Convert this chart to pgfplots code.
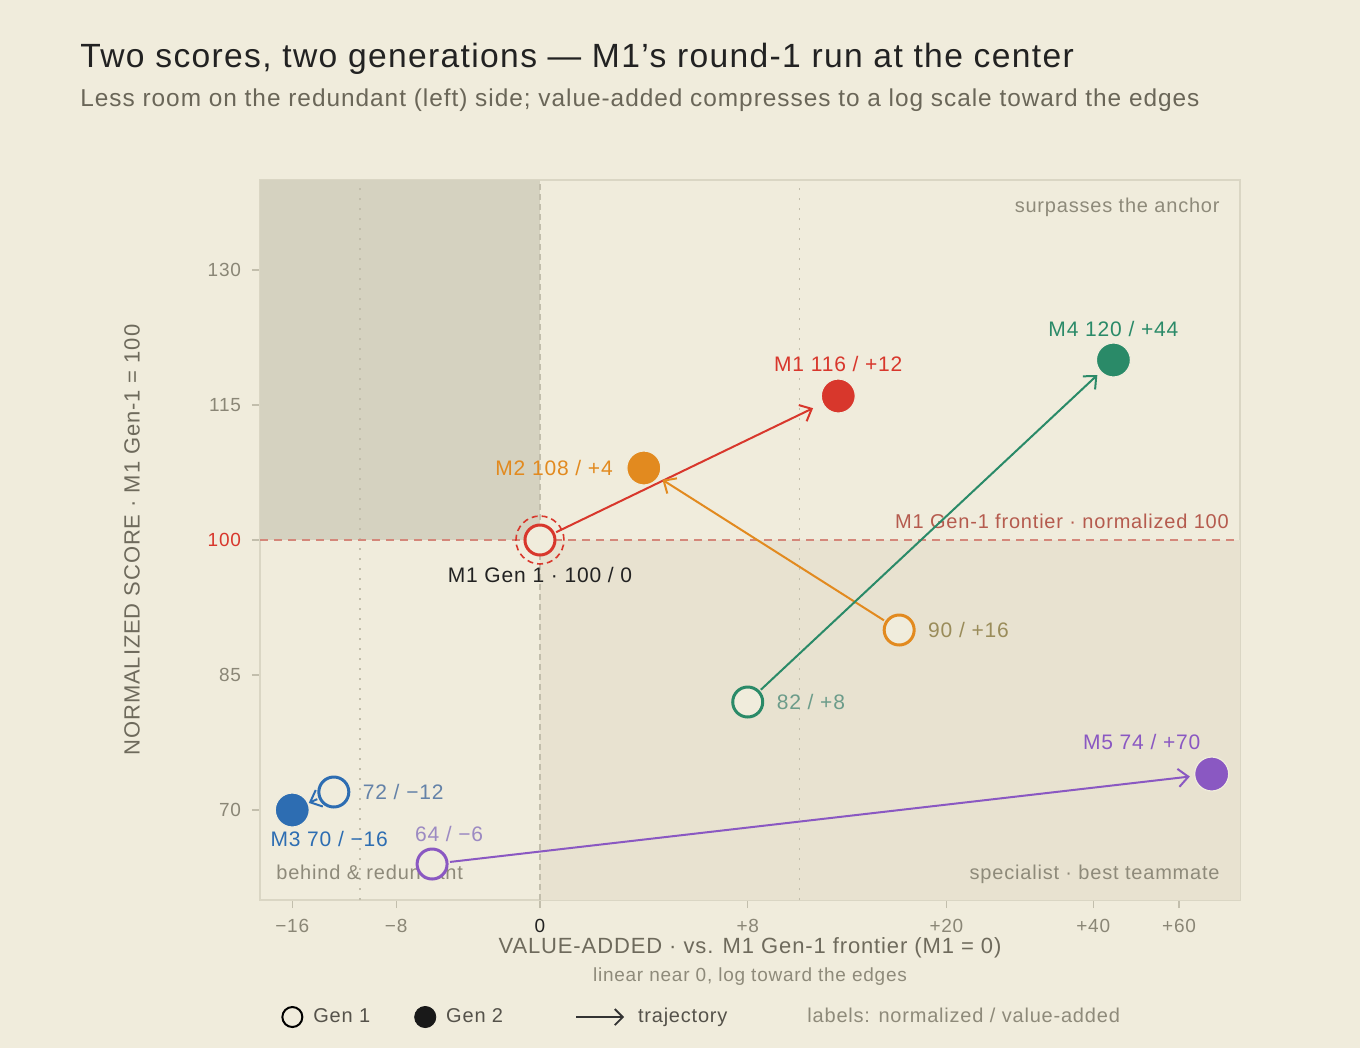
\documentclass[border=0pt]{standalone}
\usepackage{pgfplots}
\pgfplotsset{compat=1.18}
\usepackage{fontspec}
\setmainfont{Liberation Sans}[LetterSpace=4]
\usetikzlibrary{arrows.meta}
\definecolor{bg}{HTML}{F0ECDC}
\definecolor{shadeA}{HTML}{D5D2C0}
\definecolor{shadeB}{HTML}{E8E2D0}
\definecolor{cM1}{HTML}{D8372C}
\definecolor{cM2}{HTML}{E28A1F}
\definecolor{cM3}{HTML}{2D6DB2}
\definecolor{cM4}{HTML}{2A8A68}
\definecolor{cM5}{HTML}{8A58C2}
\definecolor{lM2}{HTML}{9A8C5A}
\definecolor{lM3}{HTML}{6482A8}
\definecolor{lM4}{HTML}{6C9C8A}
\definecolor{lM5}{HTML}{9C8AC2}
\definecolor{gridc}{HTML}{C2BEAC}
\definecolor{corner}{HTML}{8E8A7A}
\definecolor{tickc}{HTML}{8A8676}
\definecolor{frontier}{HTML}{D4877A}
\definecolor{frontierlbl}{HTML}{B55B4E}
\definecolor{axisc}{HTML}{DAD6C4}
\definecolor{titlec}{HTML}{222222}
\definecolor{subc}{HTML}{6A6658}
\definecolor{labc}{HTML}{6E6A5C}
\definecolor{legc}{HTML}{55524A}
\newcommand\lbl{\fontsize{10.5}{12}\selectfont}
\begin{document}
\begin{tikzpicture}
\fill[bg] (0,0) rectangle (680pt,-524pt);
\node[anchor=base west, inner sep=0, text=titlec, font=\fontsize{16.8}{20}\selectfont] at (40pt,-34pt) {Two scores, two generations — M1's round-1 run at the center};
\node[anchor=base west, inner sep=0, text=subc, font=\fontsize{12.2}{14}\selectfont] at (40pt,-53.5pt) {Less room on the redundant (left) side; value-added compresses to a log scale toward the edges};
\begin{axis}[
  at={(130pt,-450pt)}, anchor=south west,
  width=490pt, height=360pt, scale only axis,
  x coord trafo/.code={\def\xv{#1}\pgfmathparse{(\xv>10)*(10+8.1538*ln(max(\xv,10)/10)) + (\xv<-10)*(-6.9231-5.5654*ln(max(-(\xv),10)/10)) + (\xv>=0)*(\xv<=10)*(\xv) + (\xv<0)*(\xv>=-10)*0.69231*(\xv)}},
  xmin=-20, xmax=80, ymin=60, ymax=140,
  clip=false,
  axis line style={draw=axisc, line width=0.6pt},
  tick pos=left, tick align=outside,
  major tick length=4pt,
  tick style={draw=gridc, line width=0.6pt},
  xtick={-16,-8,0,8,20,40,60},
  xticklabels={−16,−8,\textcolor{titlec}{0},+8,+20,+40,+60},
  ytick={70,85,100,115,130},
  yticklabels={70,85,\textcolor{cM1}{100},115,130},
  tick label style={font=\fontsize{9.5}{11}\selectfont, text=tickc},
  xticklabel style={yshift=-2pt},
  yticklabel style={xshift=-2pt},
  legend style={draw=none, fill=none, at={(0.0214,-0.1625)}, anchor=west,
    font=\fontsize{10}{12}\selectfont, text=legc, inner sep=0pt,
    nodes={inner sep=2pt},
    /tikz/column 2/.style={column sep=20pt},
    /tikz/column 4/.style={column sep=34pt},
    /tikz/column 6/.style={column sep=36pt}},
  legend columns=4,
]
% quadrant shading
\fill[shadeA] (axis cs:-20,100) rectangle (axis cs:0,140);
\fill[shadeB] (axis cs:0,60) rectangle (axis cs:80,100);
% reference lines
\draw[gridc, dash pattern=on 1pt off 4pt, line width=0.8pt] (axis cs:-10,60) -- (axis cs:-10,140);
\draw[gridc, dash pattern=on 1pt off 4pt, line width=0.8pt] (axis cs:10,60) -- (axis cs:10,140);
\draw[gridc, dash pattern=on 3pt off 2pt, line width=0.7pt] (axis cs:0,60) -- (axis cs:0,140);
\draw[frontier, dash pattern=on 4pt off 3pt, line width=0.7pt] (axis cs:-20,100) -- (axis cs:80,100);
\node[anchor=base east, text=frontierlbl, font=\fontsize{10}{12}\selectfont, inner sep=0] at (rel axis cs:0.989,0.5) [yshift=6pt] {M1 Gen-1 frontier · normalized 100};
% corner labels
\node[anchor=base east, text=corner, font=\fontsize{10}{12}\selectfont, inner sep=0] at (rel axis cs:0.9796,0.9555) {surpasses the anchor};
\node[anchor=base east, text=corner, font=\fontsize{10}{12}\selectfont, inner sep=0] at (rel axis cs:0.9796,0.0285) {specialist · best teammate};
\node[anchor=base west, text=corner, font=\fontsize{10}{12}\selectfont, inner sep=0] at (rel axis cs:0.0163,0.0285) {behind \& redundant};
% trajectories
\addplot[forget plot, cM1, line width=1pt, -{Straight Barb[length=5pt,width=9pt]}, shorten <=9pt, shorten >=14pt] coordinates {(0,100) (12,116)};
\addplot[forget plot, cM2, line width=1pt, -{Straight Barb[length=5pt,width=9pt]}, shorten <=9pt, shorten >=11pt] coordinates {(16,90) (4,108)};
\addplot[forget plot, cM4, line width=1pt, -{Straight Barb[length=5pt,width=9pt]}, shorten <=9pt, shorten >=11pt] coordinates {(8,82) (44,120)};
\addplot[forget plot, cM5, line width=1pt, -{Straight Barb[length=5pt,width=9pt]}, shorten <=9pt, shorten >=11pt] coordinates {(-6,64) (70,74)};
\addplot[forget plot, cM3, line width=1pt, -{Straight Barb[length=5pt,width=9pt]}, shorten <=9pt, shorten >=9pt] coordinates {(-12,72) (-16,70)};
% M1 gen-1 ring
\addplot[forget plot, only marks, mark=o, mark size=12pt, mark options={draw=cM1, line width=0.8pt, dash pattern=on 3pt off 2pt}] coordinates {(0,100)};
% Gen 1 markers
\addplot[forget plot, only marks, mark=*, mark size=7.5pt, mark options={draw=cM1, fill=bg, line width=1.5pt}] coordinates {(0,100)};
\addplot[forget plot, only marks, mark=*, mark size=7.5pt, mark options={draw=cM2, fill=bg, line width=1.5pt}] coordinates {(16,90)};
\addplot[forget plot, only marks, mark=*, mark size=7.5pt, mark options={draw=cM3, fill=bg, line width=1.5pt}] coordinates {(-12,72)};
\addplot[forget plot, only marks, mark=*, mark size=7.5pt, mark options={draw=cM4, fill=bg, line width=1.5pt}] coordinates {(8,82)};
\addplot[forget plot, only marks, mark=*, mark size=7.5pt, mark options={draw=cM5, fill=bg, line width=1.5pt}] coordinates {(-6,64)};
% Gen 2 markers
\addplot[forget plot, only marks, mark=*, mark size=8.5pt, mark options={draw=bg, fill=cM1, line width=0.6pt}] coordinates {(12,116)};
\addplot[forget plot, only marks, mark=*, mark size=8.5pt, mark options={draw=bg, fill=cM2, line width=0.6pt}] coordinates {(4,108)};
\addplot[forget plot, only marks, mark=*, mark size=8.5pt, mark options={draw=bg, fill=cM3, line width=0.6pt}] coordinates {(-16,70)};
\addplot[forget plot, only marks, mark=*, mark size=8.5pt, mark options={draw=bg, fill=cM4, line width=0.6pt}] coordinates {(44,120)};
\addplot[forget plot, only marks, mark=*, mark size=8.5pt, mark options={draw=bg, fill=cM5, line width=0.6pt}] coordinates {(70,74)};
% labels
\node[text=cM1, font=\lbl] at (axis cs:12,116) [yshift=16pt] {M1 116 / +12};
\node[text=cM4, font=\lbl] at (axis cs:44,120) [yshift=15.5pt] {M4 120 / +44};
\node[text=cM5, font=\lbl] at (axis cs:70,74) [xshift=-35pt, yshift=16pt] {M5 74 / +70};
\node[text=cM2, font=\lbl, anchor=east] at (axis cs:4,108) [xshift=-12pt] {M2 108 / +4};
\node[text=cM3, font=\lbl] at (axis cs:-16,70) [xshift=18.5pt, yshift=-14.5pt] {M3 70 / −16};
\node[text=lM3, font=\lbl, anchor=west] at (axis cs:-12,72) [xshift=11pt] {72 / −12};
\node[text=lM2, font=\lbl, anchor=west] at (axis cs:16,90) [xshift=11pt] {90 / +16};
\node[text=lM4, font=\lbl, anchor=west] at (axis cs:8,82) [xshift=11pt] {82 / +8};
\node[text=lM5, font=\lbl] at (axis cs:-6,64) [xshift=8.5pt, yshift=15pt] {64 / −6};
\node[text=titlec, font=\lbl] at (axis cs:0,100) [yshift=-17.5pt] {M1 Gen 1 · 100 / 0};
% axis titles
\node[text=labc, font=\fontsize{11}{13}\selectfont] at (rel axis cs:0.5,0) [yshift=-24pt] {VALUE-ADDED · vs. M1 Gen-1 frontier (M1 = 0)};
\node[text=corner, font=\fontsize{9.5}{11}\selectfont] at (rel axis cs:0.5,0) [yshift=-38.5pt] {linear near 0, log toward the edges};
\node[text=labc, font=\fontsize{11}{13}\selectfont, xshift=-64pt, rotate=90] at (rel axis cs:0,0.5) {NORMALIZED SCORE · M1 Gen-1 = 100};
% legend
\addlegendimage{legend image code/.code={\path[draw=none,fill=none] (0,0) -- (13.5pt,0); \draw[black, line width=1pt, fill=bg] (5pt,0) circle (5pt);}}
\addlegendentry{Gen 1}
\addlegendimage{legend image code/.code={\path[draw=none,fill=none] (0,0) -- (13.5pt,0); \fill[black!90] (5pt,0) circle (5.3pt);}}
\addlegendentry{Gen 2}
\addlegendimage{legend image code/.code={\path[draw=none,fill=none] (0,0) -- (29pt,0); \draw[black!80, line width=0.9pt, -{Straight Barb[length=4pt,width=8pt]}] (0,0) -- (24pt,0);}}
\addlegendentry{trajectory}
\addlegendimage{empty legend}
\addlegendentry{\textcolor{corner}{labels: normalized / value-added}}
\end{axis}
\pgfresetboundingbox
\useasboundingbox (0,0) rectangle (680pt,-524pt);
\end{tikzpicture}
\end{document}
